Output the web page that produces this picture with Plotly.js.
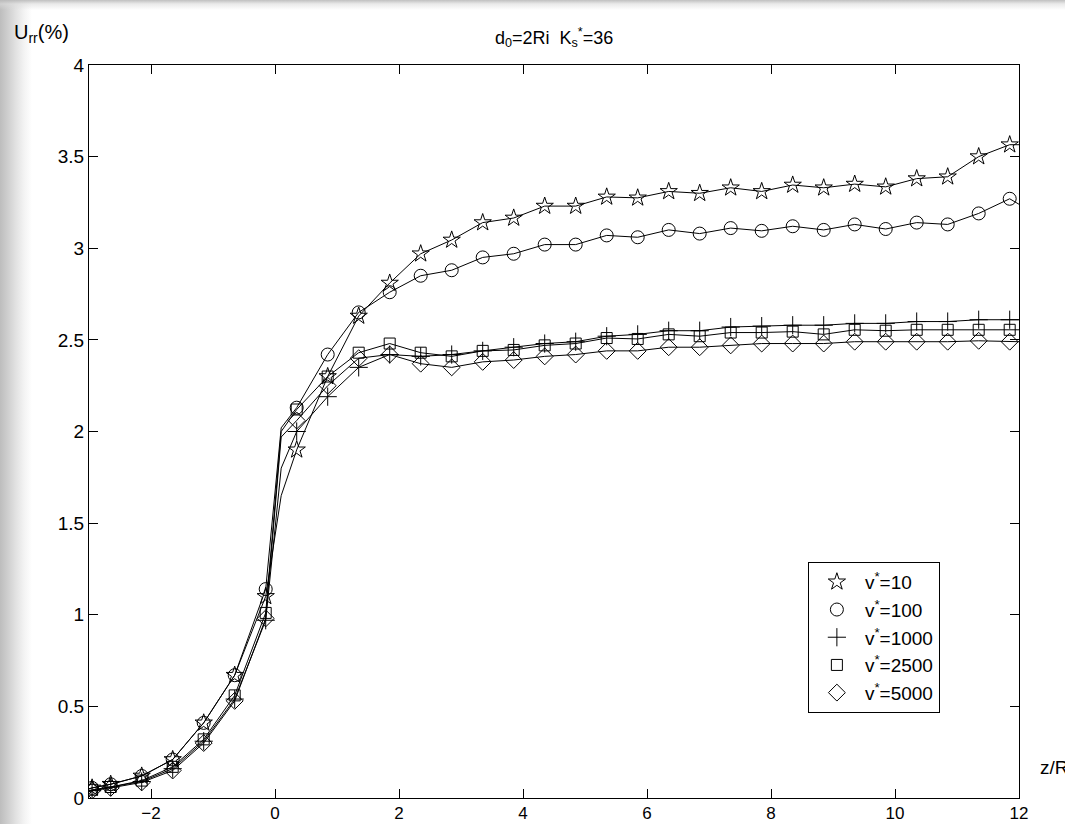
<!DOCTYPE html>
<html>
<head>
<meta charset="utf-8">
<script src="https://cdn.plot.ly/plotly-3.0.1.min.js"></script>
<style>
html, body { margin:0; padding:0; width:1065px; height:824px; overflow:hidden;
  background:
    linear-gradient(to bottom, rgba(185,185,185,0.9) 0px, rgba(220,220,220,0.6) 4px, rgba(255,255,255,0) 10px),
    linear-gradient(to right, #bdbdbd 0px, #cfcfcf 8px, #e2e2e2 16px, #f3f3f3 24px, #ffffff 32px);
}
#chart { width:1065px; height:824px; }
</style>
</head>
<body>
<div id="chart"></div>
<script>
// marker abscissae (z/Ri)
const zMarkers = [-2.95,-2.65,-2.15,-1.65,-1.15,-0.65,-0.15,0.35,0.85,1.35,1.85,2.35,2.85,3.35,3.85,4.35,4.85,5.35,5.85,6.35,6.85,7.35,7.85,8.35,8.85,9.35,9.85,10.35,10.85,11.35,11.85];

// U_rr (%) per series
const v10   = [0.055,0.075,0.12,0.21,0.41,0.67,1.10,1.90,2.30,2.63,2.81,2.97,3.045,3.14,3.165,3.23,3.23,3.28,3.275,3.31,3.30,3.33,3.31,3.345,3.33,3.35,3.335,3.38,3.39,3.50,3.565];
const v100  = [0.055,0.075,0.12,0.21,0.41,0.67,1.14,2.13,2.42,2.65,2.76,2.85,2.88,2.95,2.97,3.02,3.02,3.07,3.06,3.10,3.08,3.11,3.095,3.12,3.10,3.13,3.105,3.14,3.13,3.19,3.27];
const v1000 = [0.04,0.06,0.09,0.16,0.31,0.54,0.97,2.00,2.19,2.35,2.42,2.41,2.42,2.44,2.46,2.48,2.49,2.52,2.53,2.55,2.55,2.57,2.575,2.58,2.58,2.59,2.59,2.60,2.60,2.61,2.61];
const v2500 = [0.045,0.06,0.095,0.17,0.32,0.56,1.01,2.12,2.30,2.43,2.48,2.43,2.41,2.44,2.445,2.47,2.48,2.51,2.505,2.53,2.52,2.54,2.54,2.545,2.53,2.555,2.55,2.555,2.555,2.555,2.555];
const v5000 = [0.04,0.055,0.085,0.15,0.30,0.53,0.98,2.06,2.25,2.40,2.42,2.37,2.35,2.38,2.39,2.41,2.42,2.44,2.44,2.46,2.46,2.47,2.48,2.48,2.48,2.49,2.49,2.49,2.49,2.495,2.49];

// extra points of the curves (knee after the steep rise, and curve ends)
const zKnee = 0.1;
const kneeVals  = [1.65, 2.02, 1.80, 2.00, 1.97];
const zStart = -3, zEnd = 12;
const startVals = [0.05, 0.05, 0.035, 0.04, 0.035];
const endVals   = [3.565, 3.24, 2.61, 2.555, 2.49];

const names   = ['v<sup>*</sup>=10','v<sup>*</sup>=100','v<sup>*</sup>=1000','v<sup>*</sup>=2500','v<sup>*</sup>=5000'];
const symbols = ['star-open','circle-open','cross-thin-open','square-open','diamond-open'];
const sizes   = [13, 13, 13, 11, 13];
const series  = [v10, v100, v1000, v2500, v5000];

const traces = [];
series.forEach((ys, i) => {
  const lx = [zStart].concat(zMarkers.slice(0,7), [zKnee], zMarkers.slice(7), [zEnd]);
  const ly = [startVals[i]].concat(ys.slice(0,7), [kneeVals[i]], ys.slice(7), [endVals[i]]);
  traces.push({x: lx, y: ly, mode:'lines', line:{color:'#000', width:1}, showlegend:false, hoverinfo:'skip'});
});
series.forEach((ys, i) => {
  traces.push({x: zMarkers, y: ys, mode:'markers', name: names[i],
    marker:{symbol: symbols[i], size: sizes[i], color:'#000', line:{color:'#000', width:1}}});
});

const FAM = '"Liberation Sans", Arial, Helvetica, sans-serif';

const layout = {
  width:1065, height:824,
  paper_bgcolor:'rgba(0,0,0,0)', plot_bgcolor:'#fff',
  font: {family:FAM, color:'#000', size:18},
  margin:{l:89, r:46, t:65, b:26, autoexpand:false},
  showlegend:true,
  legend:{x:0.773, y:0.322, xanchor:'left', yanchor:'top', bgcolor:'#fff', itemwidth:46,
          bordercolor:'#000', borderwidth:1, font:{family:FAM, size:19, color:'#000'}},
  xaxis:{range:[-3,12], tickvals:[-2,0,2,4,6,8,10,12], ticks:'inside', ticklen:9, tickcolor:'#000',
         showline:true, linecolor:'#000', linewidth:1, mirror:'ticks', showgrid:false, zeroline:false,
         tickfont:{family:FAM, size:17}, automargin:false},
  yaxis:{range:[0,4], dtick:0.5, tick0:0, ticks:'inside', ticklen:9, tickcolor:'#000',
         showline:true, linecolor:'#000', linewidth:1, mirror:'ticks', showgrid:false, zeroline:false,
         tickfont:{family:FAM, size:19}, automargin:false},
  annotations:[
    {text:'d<sub>0</sub>=2Ri  K<sub>s</sub><sup>*</sup>=36', xref:'paper', yref:'paper', x:0.5, y:1+(65-37)/733,
     xanchor:'center', yanchor:'middle', showarrow:false, font:{family:FAM, size:18}},
    {text:'U<sub>rr</sub>(%)', xref:'paper', yref:'paper', x:(12-89)/930, y:1+(65-34)/733,
     xanchor:'left', yanchor:'middle', showarrow:false, font:{family:FAM, size:20}},
    {text:'z/Ri', xref:'paper', yref:'paper', x:(1038-89)/930, y:(798-767)/733,
     xanchor:'left', yanchor:'middle', showarrow:false, font:{family:FAM, size:19}}
  ]
};

Plotly.newPlot('chart', traces, layout, {displayModeBar:false, staticPlot:true});
</script>
</body>
</html>
